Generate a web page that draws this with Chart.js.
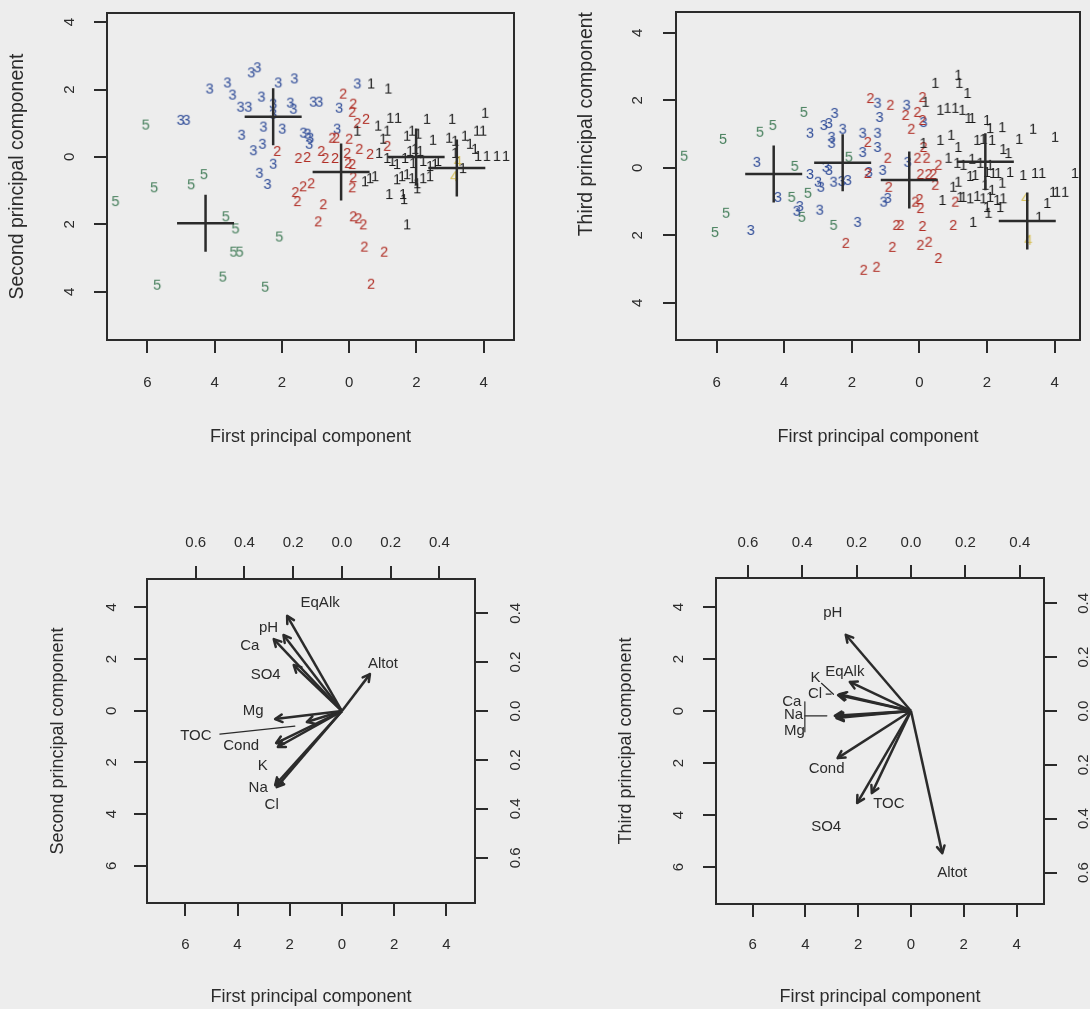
<!DOCTYPE html>
<html>
<head>
<meta charset="utf-8">
<title>Principal components</title>
<script src="https://cdn.jsdelivr.net/npm/chart.js@4.4.1/dist/chart.umd.min.js"></script>
<style>
  html, body { margin: 0; padding: 0; background: #ededed; }
  body { width: 1090px; height: 1009px; position: relative; overflow: hidden; }
  canvas { position: absolute; }
</style>
</head>
<body>
<canvas id="pc12" width="545" height="470" style="left:0;top:0"></canvas>
<canvas id="pc13" width="545" height="470" style="left:545px;top:0"></canvas>
<canvas id="bi12" width="545" height="509" style="left:0;top:500px"></canvas>
<canvas id="bi13" width="545" height="509" style="left:545px;top:500px"></canvas>
<script>
// groups and the colour of their plotting digit
const groups = ['1', '2', '3', '4', '5'];
const groupColors = ['#1a1a1a', '#b02e25', '#2f4c98', '#d6bf55', '#467f5c'];

// scores: first vs second component, one array per group
const s12_g1 = [[0.65,2.18],[1.16,2.03],[1.22,1.16],[1.45,1.16],[2.31,1.13],[3.06,1.13],[4.04,1.31],[0.86,0.93],
  [1.13,0.78],[0.24,0.78],[1.87,0.78],[2.05,0.69],[2.49,0.51],[2.97,0.57],[3.44,0.63],[3.8,0.78],[3.98,0.78],
  [3.59,0.39],[3.15,0.48],[3.74,0.24],[3.83,0.03],[4.09,0.03],[4.39,0.03],[4.66,0.03],[3.38,-0.33],[1.01,0.54],
  [1.13,-0.03],[1.28,-0.12],[1.42,-0.21],[1.66,-0.03],[1.81,0.18],[1.96,0.24],[2.11,0.18],[1.9,-0.18],[2.2,-0.12],
  [2.4,-0.27],[2.55,-0.21],[2.64,-0.12],[1.42,-0.66],[1.57,-0.57],[1.72,-0.51],[1.87,-0.63],[2.02,-0.78],[2.2,-0.63],
  [2.4,-0.57],[2.02,-0.93],[1.19,-1.1],[1.6,-1.1],[1.63,-1.25],[0.47,-0.72],[0.62,-0.63],[0.77,-0.57],[1.72,-2.0],
  [0.89,0.12],[1.72,0.63],[3.15,0.12]];
const s12_g2 = [[-0.18,1.88],[0.12,1.58],[0.09,1.34],[0.24,1.01],[0.5,1.13],[-0.5,0.57],[-0.39,0.57],[0,0.54],
  [0.3,0.24],[0.62,0.09],[1.13,0.33],[-0.83,0.18],[-0.71,-0.03],[-0.42,-0.03],[-0.06,0.12],[-0.03,-0.18],[0.09,-0.21],
  [0.12,-0.6],[0.09,-0.9],[-1.51,-0.03],[-1.25,0],[-2.14,0.18],[-1.13,-0.78],[-1.37,-0.87],[-1.6,-1.04],[-1.54,-1.31],
  [-0.77,-1.4],[-0.92,-1.91],[0.12,-1.76],[0.27,-1.82],[0.42,-2.0],[0.45,-2.66],[1.04,-2.81],[0.65,-3.76]];
const s12_g3 = [[-2.91,2.51],[-2.73,2.66],[-4.15,2.03],[-3.62,2.21],[-3.47,1.85],[-2.11,2.21],[-1.63,2.33],[-2.61,1.79],
  [-5.01,1.1],[-4.84,1.1],[-3.23,1.49],[-3.0,1.49],[-2.26,1.58],[-2.26,1.28],[-1.75,1.61],[-1.66,1.43],[-1.07,1.64],
  [-0.89,1.64],[-0.3,1.46],[-2.55,0.9],[-1.99,0.84],[-3.2,0.66],[-2.58,0.39],[-2.85,0.2],[-2.26,-0.2],[-2.67,-0.47],
  [-2.43,-0.8],[-1.36,0.72],[-1.16,0.57],[-1.19,0.39],[-1.24,0.69],[-0.36,0.84],[0.24,2.18]];
const s12_g4 = [[3.23,-0.12],[3.12,-0.57]];
const s12_g5 = [[-6.95,-1.31],[-6.05,0.96],[-5.8,-0.9],[-5.71,-3.79],[-4.7,-0.81],[-4.32,-0.51],[-3.76,-3.55],
  [-3.67,-1.76],[-3.44,-2.81],[-3.38,-2.12],[-3.26,-2.81],[-2.5,-3.85],[-2.08,-2.36]];

// scores: first vs third component
const s13_g1 = [[0.47,2.52],[1.15,2.76],[1.18,2.52],[1.42,2.22],[0.18,1.96],[0.62,1.72],[0.83,1.78],[1.06,1.78],
  [1.27,1.72],[1.45,1.48],[1.56,1.48],[2.0,1.42],[2.45,1.21],[3.36,1.16],[4.01,0.92],[2.95,0.86],[2.09,1.18],
  [0.12,0.74],[0.62,0.83],[0.94,0.98],[1.15,0.62],[1.71,0.83],[1.89,0.86],[2.15,0.83],[2.48,0.56],[2.63,0.44],
  [0.86,0.3],[1.12,0.15],[1.3,0.09],[1.56,0.27],[1.8,0.15],[2.09,0.09],[1.0,-0.56],[1.15,-0.41],[1.5,-0.24],
  [1.65,-0.21],[2.0,-0.12],[2.18,-0.15],[2.33,-0.15],[2.68,-0.12],[3.07,-0.21],[3.42,-0.15],[3.63,-0.15],[4.6,-0.15],
  [3.95,-0.71],[4.07,-0.71],[4.31,-0.71],[3.78,-1.04],[3.54,-1.45],[0.68,-0.95],[1.21,-0.86],[1.3,-0.86],[1.5,-0.9],
  [1.71,-0.83],[1.89,-0.9],[2.09,-0.86],[2.3,-0.95],[2.48,-0.9],[2.0,-1.16],[2.39,-1.16],[1.59,-1.6],[2.04,-1.33],
  [1.95,-0.5],[2.15,-0.65],[2.45,-0.44]];
const s13_g2 = [[-1.45,2.07],[-0.86,1.87],[0.09,2.1],[-0.06,1.66],[-0.41,1.57],[-0.24,1.16],[0.09,1.42],[-1.53,0.77],
  [-0.94,0.3],[0.12,0.62],[-0.06,0.3],[0.21,0.3],[0.56,0.09],[0.41,-0.18],[0.03,-0.18],[0.27,-0.18],[0.47,-0.5],
  [-1.53,-0.15],[-0.91,-0.56],[-0.12,-1.0],[0,-0.92],[0.03,-1.19],[1.06,-1.0],[-0.56,-1.69],[-0.68,-1.69],[0.09,-1.72],
  [1.0,-1.69],[-2.18,-2.22],[-0.8,-2.34],[0.03,-2.28],[0.27,-2.19],[0.56,-2.67],[-1.65,-3.02],[-1.27,-2.93]];
const s13_g3 = [[-2.51,1.63],[-2.83,1.27],[-2.68,1.33],[-3.24,1.04],[-2.6,0.92],[-2.6,0.74],[-2.27,1.16],[-1.68,1.04],
  [-1.24,1.04],[-1.24,0.62],[-1.68,0.47],[-1.24,1.93],[-1.18,1.51],[-4.81,0.18],[-4.19,-0.86],[-3.24,-0.18],
  [-3.0,-0.41],[-2.92,-0.56],[-2.77,0.03],[-2.68,-0.06],[-2.54,-0.41],[-2.3,-0.39],[-2.12,-0.36],[-3.54,-1.13],
  [-3.63,-1.27],[-2.95,-1.24],[-4.99,-1.84],[-1.83,-1.6],[-1.09,-0.06],[-1.5,-0.12],[-1.06,-1.0],[-0.94,-0.89],
  [-0.38,1.87],[0.12,1.36],[-0.35,0.18]];
const s13_g4 = [[3.13,-0.89],[3.22,-2.13]];
const s13_g5 = [[-6.96,0.36],[-6.05,-1.9],[-5.81,0.86],[-5.72,-1.33],[-4.72,1.07],[-4.34,1.27],[-3.78,-0.86],
  [-3.69,0.06],[-3.48,-1.45],[-3.42,1.66],[-3.3,-0.74],[-2.54,-1.69],[-2.09,0.33]];

// group means (centre of each cross), in group order 1..5
const mean12 = [[1.99,0.0],[-0.24,-0.45],[-2.26,1.19],[3.2,-0.33],[-4.27,-1.97]];
const mean13 = [[1.95,0.18],[-0.3,-0.36],[-2.27,0.15],[3.19,-1.57],[-4.31,-0.18]];

// variable loadings on the first three components
const vars  = ['pH', 'EqAlk', 'Ca', 'Mg', 'Na', 'K', 'Cl', 'SO4', 'Cond', 'TOC', 'Altot'];
const load1 = [-0.24, -0.225, -0.28, -0.274, -0.274, -0.263, -0.268, -0.198, -0.27, -0.144, 0.115];
const load2 = [0.311, 0.389, 0.294, -0.033, -0.303, -0.147, -0.311, 0.188, -0.131, -0.045, 0.151];
const load3 = [0.283, 0.108, -0.018, -0.026, -0.022, 0.062, 0.059, -0.342, -0.175, -0.305, -0.528];

// axis ticks
const pcTicksX = [-6, -4, -2, 0, 2, 4];
const pcTicksY = [-4, -2, 0, 2, 4];
const pcTicksY6 = [-6, -4, -2, 0, 2, 4];
const loadTicks = [-0.6, -0.4, -0.2, 0, 0.2, 0.4];

const INK = '#2b2b2b';
const FONT = '"Liberation Sans", Arial, Helvetica, sans-serif';
Chart.defaults.font.family = FONT;
Chart.defaults.color = INK;

// label placement for the loading arrows (pixel offsets from the arrow tip)
const notes12 = {
  pH: {dx: -15, dy: -7}, EqAlk: {dx: 33, dy: -13}, Ca: {dx: -24, dy: 7}, Mg: {dx: -22, dy: -8},
  Na: {dx: -17, dy: 3}, K: {dx: -15, dy: 19}, Cl: {dx: -5, dy: 18}, SO4: {dx: -28, dy: 10},
  Cond: {dx: -35, dy: 3}, TOC: {dx: -111, dy: 14, lead: [[-87, 12, -12, 4]]}, Altot: {dx: 13, dy: -10}
};
const notes13 = {
  pH: {dx: -13, dy: -22}, EqAlk: {dx: -5, dy: -10},
  K: {dx: -24, dy: -16, lead: [[-18, -11, -6, 0]]}, Cl: {dx: -23, dy: -1, lead: [[-12, -1, -7, -1]]},
  Ca: {dx: -43, dy: -14, lead: [[-30, -14, -30, 16], [-30, 0, -8, 0]]}, Na: {dx: -43, dy: -2}, Mg: {dx: -42, dy: 13},
  Cond: {dx: -11, dy: 11}, SO4: {dx: -31, dy: 24}, TOC: {dx: 17, dy: 11}, Altot: {dx: 10, dy: 20}
};

// a digit drawn once into a small canvas and used as point style
function digitSprite(ch, color) {
  const c = document.createElement('canvas');
  c.width = 18; c.height = 18;
  const g = c.getContext('2d');
  g.font = '14.5px ' + FONT;
  g.fillStyle = color;
  g.textAlign = 'center';
  g.textBaseline = 'alphabetic';
  g.fillText(ch, 9, 14);
  return c;
}

// R-like axis: fixed range, given ticks, outward tick marks, unsigned labels
function axis(o) {
  return {
    type: 'linear', position: o.pos, min: o.min, max: o.max, bounds: 'data',
    afterBuildTicks: s => { s.ticks = o.ticks.map(v => ({value: v})); },
    afterFit: s => {
      if (s.isHorizontal()) s.height = o.size; else s.width = o.size;
      s.paddingLeft = s.paddingRight = s.paddingTop = s.paddingBottom = 0;
    },
    grid: {drawOnChartArea: false, drawTicks: true, tickLength: 13, color: INK, lineWidth: 2},
    border: {display: false},
    ticks: {
      padding: o.pad, font: {size: 15}, color: INK, autoSkip: false,
      minRotation: o.rotate || 0, maxRotation: o.rotate || 0,
      crossAlign: o.rotate ? 'center' : 'near',
      callback: v => o.dec ? Math.abs(v).toFixed(o.dec) : String(Math.abs(v))
    },
    title: o.title ? {
      display: true, text: o.title, font: {size: o.titleSize}, color: INK,
      padding: o.titlePad, align: o.titleAlign || 'center'
    } : {display: false}
  };
}

const frame = {
  id: 'frame',
  afterDraw(chart) {
    const {ctx, chartArea: a} = chart;
    ctx.save();
    ctx.strokeStyle = INK;
    ctx.lineWidth = 2;
    ctx.strokeRect(a.left, a.top, a.right - a.left, a.bottom - a.top);
    ctx.restore();
  }
};

function scoresChart(id, scores, means, geo) {
  const sets = [{
    data: means.map(([x, y]) => ({x, y})),
    pointStyle: 'cross', pointRadius: 28.5, borderColor: INK, borderWidth: 2.5
  }];
  scores.forEach((pts, g) => sets.push({
    data: pts.map(([x, y]) => ({x, y})),
    pointStyle: digitSprite(groups[g], groupColors[g]), pointRadius: 5
  }));
  new Chart(document.getElementById(id), {
    type: 'scatter',
    data: {datasets: sets},
    options: {
      responsive: false, animation: false, events: [],
      layout: {padding: geo.padding, autoPadding: false},
      plugins: {legend: {display: false}, tooltip: {enabled: false}},
      scales: {x: axis(geo.x), y: axis(geo.y)}
    },
    plugins: [frame]
  });
}

// arrow heads and variable names on top of the shafts
function arrowLabels(ly, notes) {
  return {
    id: 'arrowLabels',
    afterDatasetsDraw(chart) {
      const {ctx} = chart;
      const sx = chart.scales.x2, sy = chart.scales.y2;
      const x0 = sx.getPixelForValue(0), y0 = sy.getPixelForValue(0);
      ctx.save();
      ctx.strokeStyle = INK;
      ctx.fillStyle = INK;
      ctx.lineCap = 'round';
      vars.forEach((name, i) => {
        const x = sx.getPixelForValue(load1[i]), y = sy.getPixelForValue(ly[i]);
        const ang = Math.atan2(y - y0, x - x0);
        ctx.lineWidth = 2.5;
        ctx.beginPath();
        [-0.5, 0.5].forEach(d => {
          ctx.moveTo(x, y);
          ctx.lineTo(x - 8 * Math.cos(ang + d), y - 8 * Math.sin(ang + d));
        });
        ctx.stroke();
        const n = notes[name];
        (n.lead || []).forEach(([a, b, c, e]) => {
          ctx.lineWidth = 1.2;
          ctx.beginPath();
          ctx.moveTo(x + a, y + b);
          ctx.lineTo(x + c, y + e);
          ctx.stroke();
        });
        ctx.font = '15px ' + FONT;
        ctx.textAlign = 'center';
        ctx.textBaseline = 'middle';
        ctx.fillText(name, x + n.dx, y + n.dy);
      });
      ctx.restore();
    }
  };
}

function biplotChart(id, ly, notes, geo) {
  const sets = vars.map((v, i) => ({
    data: [{x: 0, y: 0}, {x: load1[i], y: ly[i]}],
    xAxisID: 'x2', yAxisID: 'y2', showLine: true,
    borderColor: INK, borderWidth: 2.5, pointRadius: 0
  }));
  new Chart(document.getElementById(id), {
    type: 'scatter',
    data: {datasets: sets},
    options: {
      responsive: false, animation: false, events: [],
      layout: {padding: 0, autoPadding: false},
      plugins: {legend: {display: false}, tooltip: {enabled: false}},
      scales: {x: axis(geo.x), y: axis(geo.y), x2: axis(geo.x2), y2: axis(geo.y2)}
    },
    plugins: [frame, arrowLabels(ly, notes)]
  });
}

const xTitle = 'First principal component';

scoresChart('pc12', [s12_g1, s12_g2, s12_g3, s12_g4, s12_g5], mean12, {
  padding: {left: 0, top: 13, right: 31, bottom: 0},
  x: {pos: 'bottom', min: -7.2, max: 4.9, ticks: pcTicksX, size: 130, pad: 21,
      title: xTitle, titleSize: 18, titlePad: {top: 0, bottom: 22}},
  y: {pos: 'left', min: -5.43, max: 4.27, ticks: pcTicksY, size: 107, pad: 20, rotate: 90,
      title: 'Second principal component', titleSize: 19.5, titlePad: {top: 6, bottom: 0}}
});

scoresChart('pc13', [s13_g1, s13_g2, s13_g3, s13_g4, s13_g5], mean13, {
  padding: {left: 0, top: 12, right: 10, bottom: 0},
  x: {pos: 'bottom', min: -7.2, max: 4.75, ticks: pcTicksX, size: 130, pad: 21,
      title: xTitle, titleSize: 18, titlePad: {top: 0, bottom: 22}},
  y: {pos: 'left', min: -5.1, max: 4.62, ticks: pcTicksY, size: 131, pad: 21, rotate: 90,
      title: 'Third principal component', titleSize: 19.5, titlePad: {top: 30, bottom: 0}, titleAlign: 'end'}
});

biplotChart('bi12', load2, notes12, {
  x: {pos: 'bottom', min: -7.47, max: 5.1, ticks: pcTicksX, size: 106, pad: 20,
      title: xTitle, titleSize: 18, titlePad: {top: 0, bottom: 1}},
  y: {pos: 'left', min: -7.44, max: 5.1, ticks: pcTicksY6, size: 147, pad: 18, rotate: 90,
      title: 'Second principal component', titleSize: 18, titlePad: {top: 47, bottom: 0}},
  x2: {pos: 'top', min: -0.8, max: 0.546, ticks: loadTicks, size: 79, pad: 14, dec: 1},
  y2: {pos: 'right', min: -0.785, max: 0.54, ticks: loadTicks, size: 70, pad: 17, rotate: 90, dec: 1}
});

biplotChart('bi13', load3, notes13, {
  x: {pos: 'bottom', min: -7.39, max: 5.04, ticks: pcTicksX, size: 105, pad: 19,
      title: xTitle, titleSize: 18, titlePad: {top: 0, bottom: 1}},
  y: {pos: 'left', min: -7.42, max: 5.12, ticks: pcTicksY6, size: 171, pad: 20, rotate: 90,
      title: 'Third principal component', titleSize: 18, titlePad: {top: 70, bottom: 0}},
  x2: {pos: 'top', min: -0.717, max: 0.489, ticks: loadTicks, size: 78, pad: 13, dec: 1},
  y2: {pos: 'right', min: -0.717, max: 0.494, ticks: loadTicks, size: 46, pad: 16, rotate: 90, dec: 1}
});
</script>
</body>
</html>
